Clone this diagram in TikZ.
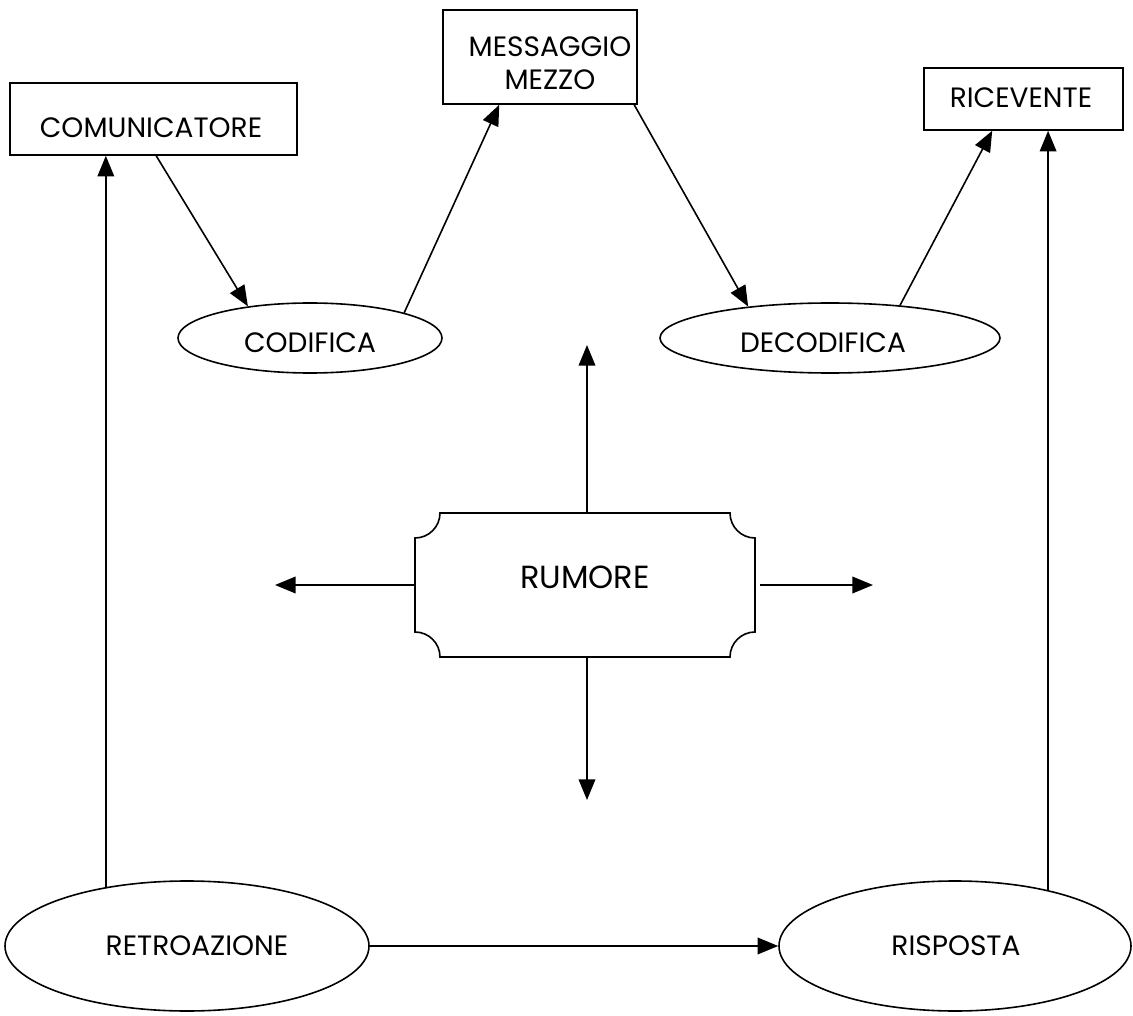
\documentclass[tikz,border=0pt]{standalone}
\usepackage{fontspec}
\setmainfont{Poppins}
\usetikzlibrary{shapes.geometric,arrows.meta,calc}
\begin{document}
\begin{tikzpicture}[x=0.75pt,y=-0.75pt,
  line width=1.2pt,
  arr/.style={-{Triangle[length=15.5pt,width=12.5pt]}},
  boxshape/.style={draw, rectangle, inner sep=0pt},
  ellshape/.style={draw, ellipse, inner sep=0pt},
  lbl/.style={font=\fontsize{21pt}{25pt}\selectfont, inner sep=0pt, align=center},
  biglbl/.style={font=\fontsize{24pt}{28pt}\selectfont, inner sep=0pt}]
\useasboundingbox (0,0) rectangle (1133,1016);

% shapes
\node[boxshape, minimum width=215.25pt, minimum height=54pt] (comm) at (153.5,119) {};
\node[boxshape, minimum width=145.5pt, minimum height=70.5pt] (mess) at (540,57) {};
\node[boxshape, minimum width=149.25pt, minimum height=46.5pt] (ric) at (1023.5,99) {};
\node[ellshape, minimum width=198pt, minimum height=52.5pt] (cod) at (310,338) {};
\node[ellshape, minimum width=255pt, minimum height=52.5pt] (dec) at (830,338) {};
\node[ellshape, minimum width=273pt, minimum height=97.5pt] (retro) at (187,946) {};
\node[ellshape, minimum width=264pt, minimum height=97.5pt] (risp) at (955,946) {};
\node[rectangle, inner sep=0pt, minimum width=255pt, minimum height=108pt] (rum) at (585,585) {};
\draw (440,513) -- (730,513) .. controls (730,526.8) and (741.2,538) .. (755,538)
  -- (755,632) .. controls (741.2,632) and (730,643.2) .. (730,657)
  -- (440,657) .. controls (440,643.2) and (428.8,632) .. (415,632)
  -- (415,538) .. controls (428.8,538) and (440,526.8) .. (440,513) -- cycle;

% texts
\node[lbl] (commt) at (151,128) {COMUNICATORE};
\node[lbl] (messt) at (550,63.5) {MESSAGGIO\\MEZZO};
\node[lbl] (rict) at (1021,98) {RICEVENTE};
\node[lbl] (codt) at (310,343) {CODIFICA};
\node[lbl] (dect) at (823,343) {DECODIFICA};
\node[biglbl] (rumt) at (585,577) {RUMORE};
\node[lbl] (retrot) at (197,946) {RETROAZIONE};
\node[lbl] (rispt) at (956,946) {RISPOSTA};

% free ends of the noise arrows
\coordinate (nup) at (587,345);
\coordinate (ndown) at (587,800);
\coordinate (nleft) at (275,585);
\coordinate (nright) at (873,585);

% connectors
\draw[arr] ($(comm.south west)+(147,0)$) -- (cod.153);
\draw[arr] (cod.15) -- ($(mess.south west)+(57,0)$);
\draw[arr] ($(mess.south west)+(192,0)$) -- (dec.159);
\draw[arr] (dec.25) -- ($(ric.south west)+(69,0)$);
\draw[arr] (retro.144) -- (retro.144 |- comm.south);
\draw[arr] (risp.31) -- (risp.31 |- ric.south);
\draw[arr] (retro.east) -- (risp.west);
\draw[arr] (rum.north -| nup) -- (nup);
\draw[arr] (rum.south -| ndown) -- (ndown);
\draw[arr] (rum.west) -- (nleft);
\draw[arr] ($(rum.east)+(4,0)$) -- (nright);
\end{tikzpicture}
\end{document}
